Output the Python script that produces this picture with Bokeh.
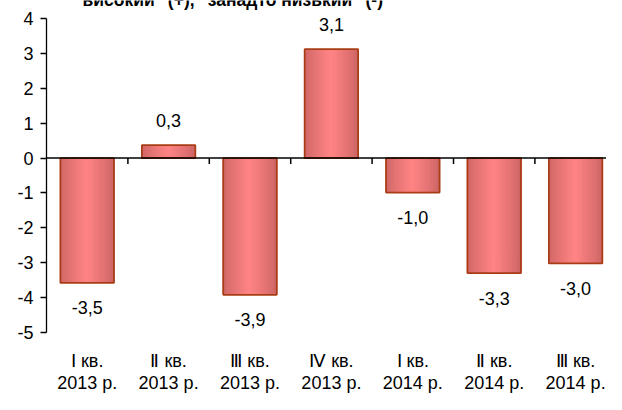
from bokeh.plotting import figure
from bokeh.models import Range1d, FixedTicker, Span, ColumnDataSource
from bokeh.core.properties import value
from bokeh.embed import file_html
from bokeh.resources import INLINE

quarters = ["Ⅰ кв.", "Ⅱ кв.", "Ⅲ кв.", "Ⅳ кв.", "Ⅰ кв.", "Ⅱ кв.", "Ⅲ кв."]
years = ["2013 р.", "2013 р.", "2013 р.", "2013 р.", "2014 р.", "2014 р.", "2014 р."]
values = [-3.58, 0.37, -3.92, 3.12, -0.99, -3.30, -3.02]
value_labels = ["-3,5", "0,3", "-3,9", "3,1", "-1,0", "-3,3", "-3,0"]
y_ticks = [-5, -4, -3, -2, -1, 0, 1, 2, 3, 4]
title_text = 'високий" (+), "занадто низький" (-)'

FONT = "Liberation Sans"
FS = "18px"
W, H = 606, 394
LEFT = 46            # px of y-axis area
TOP_PAD, BOT_PAD = 18, 62   # px between canvas edge and axis ends
PX_CAT = 81.4
PX_UNIT = (H - TOP_PAD - BOT_PAD) / (max(y_ticks) - min(y_ticks))
n = len(quarters)
centers = [i + 0.5 for i in range(n)]
ymin, ymax = min(y_ticks), max(y_ticks)

p = figure(width=W, height=H,
           x_range=Range1d(0, (W - LEFT) / PX_CAT),
           y_range=Range1d(ymin - BOT_PAD / PX_UNIT, ymax + TOP_PAD / PX_UNIT),
           output_backend="svg", toolbar_location=None, tools="",
           min_border_left=LEFT, min_border_right=0, min_border_top=0, min_border_bottom=0)
p.outline_line_color = None
p.xgrid.visible = False
p.ygrid.visible = False
p.xaxis.visible = False
p.background_fill_color = "white"
p.border_fill_color = "white"

# gradient bars made of thin overlapping strips
bar_w = 0.657
n_strips = 30
edge = (204, 100, 100)
mid = (255, 132, 132)
sx, stop, scol = [], [], []
for i, v in enumerate(values):
    for j in range(n_strips):
        t = (j + 0.5) / n_strips
        f = (1 - abs(2 * t - 1)) ** 0.8
        c = tuple(int(round(edge[k] + (mid[k] - edge[k]) * f)) for k in range(3))
        sx.append(centers[i] - bar_w / 2 + t * bar_w)
        stop.append(v)
        scol.append("#%02x%02x%02x" % c)
p.vbar(x=sx, top=stop, bottom=0, width=bar_w / n_strips * 1.8,
       fill_color=scol, line_color=None)
p.vbar(x=centers, top=values, bottom=0, width=bar_w,
       fill_color=None, line_color="#a83c14", line_width=1.7)

# zero line and category boundary ticks
p.add_layout(Span(location=0, dimension="width", line_color="black", line_width=1.6))
bounds = list(range(1, n))
p.segment(x0=bounds, x1=bounds, y0=[0] * len(bounds), y1=[-6 / PX_UNIT] * len(bounds),
          line_color="black", line_width=1.5)

# data labels
offs = [-25 if v >= 0 else 25 for v in values]
src = ColumnDataSource(dict(x=centers, y=values, t=value_labels, o=offs))
p.text(x="x", y="y", text="t", y_offset="o", source=src,
       text_font=value(FONT), text_font_size=FS, text_color="black",
       text_align="center", text_baseline="middle")

# y axis (line limited to the tick span)
p.yaxis.bounds = (ymin, ymax)
p.yaxis.ticker = FixedTicker(ticks=y_ticks)
p.yaxis.major_label_overrides = {t: str(t) for t in y_ticks}
p.yaxis.major_tick_in = 0
p.yaxis.major_tick_out = 6
p.yaxis.minor_tick_line_color = None
p.yaxis.major_label_standoff = 7
p.yaxis.major_label_text_font = FONT
p.yaxis.major_label_text_font_size = FS
p.yaxis.major_label_text_color = "black"
p.yaxis.axis_line_color = "black"
p.yaxis.axis_line_width = 1.3
p.yaxis.major_tick_line_color = "black"
p.yaxis.major_tick_line_width = 1.3

# category labels (two lines) below the axis end
cat_src = ColumnDataSource(dict(x=centers, q=quarters, yr=years, y=[ymin] * n))
p.text(x="x", y="y", text="q", y_offset=28, source=cat_src,
       text_font=value(FONT), text_font_size=FS, text_color="black",
       text_align="center", text_baseline="middle")
p.text(x="x", y="y", text="yr", y_offset=50, source=cat_src,
       text_font=value(FONT), text_font_size=FS, text_color="black",
       text_align="center", text_baseline="middle")

# title, clipped at the top edge as in the original
p.text(x=[36 / PX_CAT], y=[ymax], text=[title_text], y_offset=-19,
       text_font=value(FONT), text_font_size="17.5px", text_font_style="bold",
       text_color="black", text_align="left", text_baseline="alphabetic")

open("out.html", "w").write(file_html(p, INLINE))
